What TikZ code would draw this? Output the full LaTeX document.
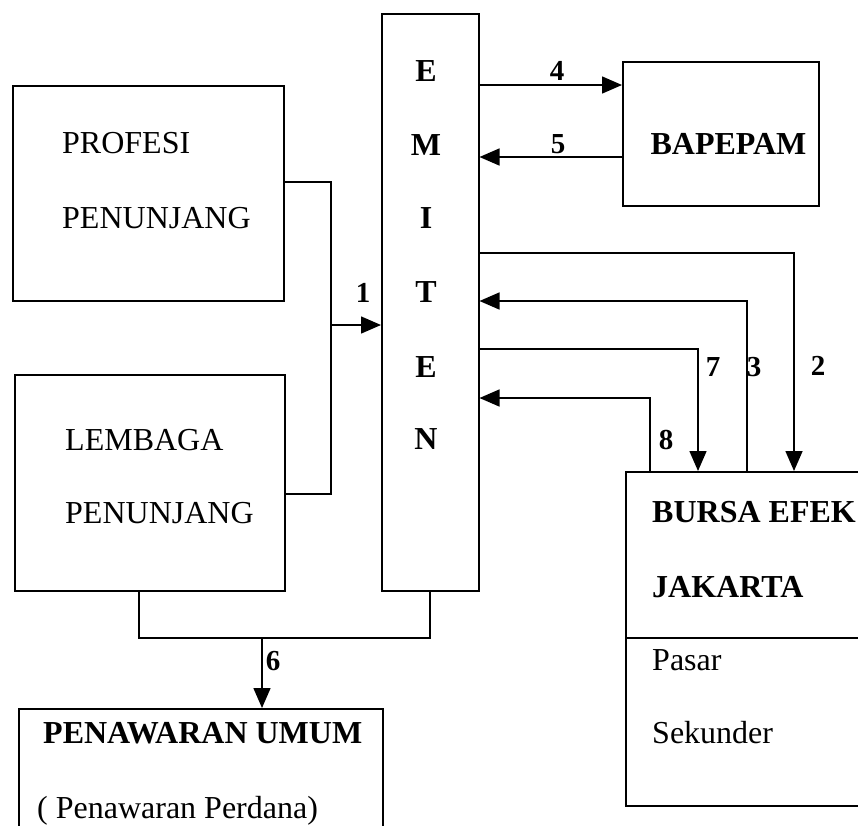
\documentclass[tikz,border=0pt]{standalone}
\usepackage{fontspec}
\setmainfont{Liberation Serif}
\usetikzlibrary{arrows.meta}
\tikzset{
  box/.style={draw, line width=1.5pt, anchor=north west, inner sep=0pt, rectangle},
  txt/.style={anchor=base west, inner sep=0pt, font=\fontsize{32pt}{36pt}\selectfont},
  btxt/.style={txt, font=\fontsize{32pt}{36pt}\selectfont\bfseries},
  lettr/.style={anchor=base, inner sep=0pt, font=\fontsize{32pt}{36pt}\selectfont\bfseries},
  num/.style={anchor=base, inner sep=0pt, font=\fontsize{29pt}{32pt}\selectfont\bfseries},
  conn/.style={line width=1.5pt},
  arr/.style={conn, -{Triangle[length=20pt,width=17pt]}}
}
\begin{document}
\begin{tikzpicture}[x=1pt,y=-1pt]
\useasboundingbox (0,0) rectangle (858,825);
\begin{scope}
\clip (0,0) rectangle (858,825);
% boxes
\node[box, minimum width=271pt, minimum height=215pt] (prof) at (12,85) {};
\node[box, minimum width=270pt, minimum height=216pt] (lemb) at (14,374) {};
\node[box, minimum width=97pt, minimum height=577pt] (emit) at (381,13) {};
\node[box, minimum width=196pt, minimum height=144pt] (bap) at (622,61) {};
\node[box, minimum width=260pt, minimum height=334pt] (bursa) at (625,471) {};
\node[box, minimum width=364pt, minimum height=140pt] (pen) at (18,708) {};
\coordinate (div) at (bursa.west |- 0,638);
\draw[conn] (div) -- (div -| bursa.east);
% texts
\node[txt] (t1) at (62,153.5) {PROFESI};
\node[txt] (t2) at (62,228) {PENUNJANG};
\node[txt] (t3) at (65,450) {LEMBAGA};
\node[txt] (t4) at (65,523) {PENUNJANG};
\node[lettr] (e1) at (426,81) {E};
\node[lettr] (e2) at (426,155) {M};
\node[lettr] (e3) at (426,228) {I};
\node[lettr] (e4) at (426,302) {T};
\node[lettr] (e5) at (426,377) {E};
\node[lettr] (e6) at (426,449) {N};
\node[btxt, anchor=base] (t5) at (728.5,154.5) {BAPEPAM};
\node[btxt] (t6) at (652,522) {BURSA EFEK};
\node[btxt] (t7) at (652,597) {JAKARTA};
\node[txt] (t8) at (652,670) {Pasar};
\node[txt] (t9) at (652,743) {Sekunder};
\node[btxt] (t10) at (43,743) {PENAWARAN UMUM};
\node[txt] (t11) at (37,818) {( Penawaran Perdana)};
% connector 1
\coordinate (j1) at (331,325);
\draw[conn] (prof.east |- 0,182) -- (j1 |- 0,182) -- (j1 |- 0,494) -- (lemb.east |- 0,494);
\draw[arr] (j1) -- (emit.west |- j1);
\node[num] (n1) at (363,302) {1};
% 4 and 5
\draw[arr] (emit.east |- 0,85) -- (bap.west |- 0,85);
\draw[arr] (bap.west |- 0,157) -- (emit.east |- 0,157);
\node[num] (n4) at (557,80) {4};
\node[num] (n5) at (558,153) {5};
% 2, 3, 7, 8
\draw[arr] (emit.east |- 0,253) -| (bursa.north -| 794,0);
\draw[arr] (bursa.north -| 747,0) |- (emit.east |- 0,301);
\draw[arr] (emit.east |- 0,349) -| (bursa.north -| 698,0);
\draw[arr] (bursa.north -| 650,0) |- (emit.east |- 0,398);
\node[num] (n7) at (713,376) {7};
\node[num] (n3) at (754,376) {3};
\node[num] (n2) at (818,375) {2};
\node[num] (n8) at (666,449) {8};
% 6
\coordinate (j6) at (262,638);
\draw[conn] (lemb.south -| 139,0) -- (139,638) -- (430,638) -- (emit.south -| 430,0);
\draw[arr] (j6) -- (pen.north -| j6);
\node[num] (n6) at (273,670) {6};
\end{scope}
\end{tikzpicture}
\end{document}
